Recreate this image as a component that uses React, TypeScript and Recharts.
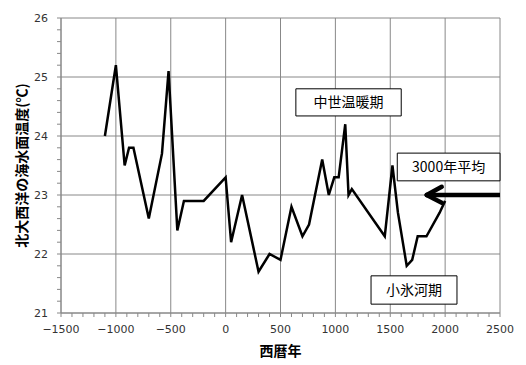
import {
  CartesianGrid,
  Line,
  LineChart,
  ReferenceArea,
  ReferenceLine,
  XAxis,
  YAxis,
} from 'recharts'

const years = [
  -1100, -1000, -920, -880, -840, -700, -580, -520, -440, -380, -200, 0, 50,
  150, 300, 400, 500, 600, 700, 760, 880, 940, 990, 1030, 1090, 1120, 1150,
  1450, 1520, 1570, 1650, 1700, 1750, 1830, 1950, 2000,
]
const temps = [
  24.0, 25.2, 23.5, 23.8, 23.8, 22.6, 23.7, 25.1, 22.4, 22.9, 22.9, 23.3, 22.2,
  23.0, 21.7, 22.0, 21.9, 22.8, 22.3, 22.5, 23.6, 23.0, 23.3, 23.3, 24.2, 23.0,
  23.1, 22.3, 23.5, 22.7, 21.8, 21.9, 22.3, 22.3, 22.7, 22.9,
]

const xMajor = [-1500, -1000, -500, 0, 500, 1000, 1500, 2000, 2500]
const yMajor = [21, 22, 23, 24, 25, 26]
const xMinorStep = 100
const yMinorStep = 0.2

const average = 23.0

const data = years.map((year, i) => ({ year, temp: temps[i] }))

const xTicks: number[] = []
for (let v = xMajor[0]; v <= xMajor[xMajor.length - 1]; v += xMinorStep) xTicks.push(v)
const yTicks: number[] = []
for (let i = 0; i <= (yMajor[yMajor.length - 1] - yMajor[0]) / yMinorStep + 0.01; i++)
  yTicks.push(Math.round((yMajor[0] + i * yMinorStep) * 10) / 10)

const tickFont = '"DejaVu Sans", sans-serif'
const cjkFont = '"Noto Sans CJK JP", sans-serif'

const fmt = (v: number) => (v < 0 ? '\u2212' + Math.abs(v) : String(v))

function XTick({ x, y, payload }: any) {
  const v = payload.value
  const major = xMajor.includes(v)
  return (
    <g>
      <line x1={x} x2={x} y1={y} y2={y + 4} stroke='#888' />
      {major && (
        <text
          x={x}
          y={y + 16}
          textAnchor='middle'
          dominantBaseline='central'
          fontFamily={tickFont}
          fontSize={11}
          fill='#333'
        >
          {fmt(v)}
        </text>
      )}
    </g>
  )
}

function YTick({ x, y, payload }: any) {
  const v = payload.value
  const major = yMajor.includes(v)
  return (
    <g>
      <line x1={x - 4} x2={x} y1={y} y2={y} stroke='#888' />
      {major && (
        <text
          x={x - 13}
          y={y}
          textAnchor='end'
          dominantBaseline='central'
          fontFamily={tickFont}
          fontSize={11}
          fill='#333'
        >
          {v}
        </text>
      )}
    </g>
  )
}

const boxLabel = (value: string) => ({
  value,
  position: 'center' as const,
  fontSize: 14,
  fill: '#000',
  fontFamily: cjkFont,
})

export default function App() {
  return (
    <div style={{ position: 'absolute', left: 0, top: 0, background: '#fff' }}>
      <LineChart
        width={526}
        height={365}
        data={data}
        margin={{ top: 18, right: 26, left: 0, bottom: 0 }}
      >
        <CartesianGrid
          stroke='#888'
          horizontalValues={yMajor}
          verticalValues={xMajor}
        />
        <XAxis
          dataKey='year'
          type='number'
          domain={[xMajor[0], xMajor[xMajor.length - 1]]}
          ticks={xTicks}
          interval={0}
          tick={<XTick />}
          tickLine={false}
          tickSize={0}
          tickMargin={0}
          stroke='#888'
          height={52}
          label={{
            value: '西暦年',
            position: 'insideBottom',
            offset: 9,
            fontSize: 14,
            fontWeight: 'bold',
            fill: '#000',
            fontFamily: cjkFont,
          }}
        />
        <YAxis
          type='number'
          domain={[yMajor[0], yMajor[yMajor.length - 1]]}
          ticks={yTicks}
          interval={0}
          tick={<YTick />}
          tickLine={false}
          tickSize={0}
          tickMargin={0}
          stroke='#888'
          width={61}
          label={{
            value: '北大西洋の海水面温度(℃)',
            angle: -90,
            position: 'insideLeft',
            offset: 22,
            fontSize: 14,
            fontWeight: 'bold',
            fill: '#000',
            fontFamily: cjkFont,
            style: { textAnchor: 'middle' },
          }}
        />
        <ReferenceArea
          x1={640}
          x2={1600}
          y1={24.34}
          y2={24.8}
          fill='#fff'
          fillOpacity={1}
          stroke='#000'
          label={boxLabel('中世温暖期')}
        />
        <ReferenceArea
          x1={1564}
          x2={2500}
          y1={23.24}
          y2={23.71}
          fill='#fff'
          fillOpacity={1}
          stroke='#000'
          label={boxLabel('3000年平均')}
        />
        <ReferenceArea
          x1={1325}
          x2={2108}
          y1={21.15}
          y2={21.63}
          fill='#fff'
          fillOpacity={1}
          stroke='#000'
          label={boxLabel('小氷河期')}
        />
        <ReferenceLine
          segment={[
            { x: 2500, y: average },
            { x: 1832, y: average },
          ]}
          stroke='#000'
          strokeWidth={4.5}
        />
        <ReferenceLine
          segment={[
            { x: 1832, y: average },
            { x: 1969, y: 23.14 },
          ]}
          stroke='#000'
          strokeWidth={4.5}
          strokeLinecap='round'
        />
        <ReferenceLine
          segment={[
            { x: 1832, y: average },
            { x: 1969, y: 22.87 },
          ]}
          stroke='#000'
          strokeWidth={4.5}
          strokeLinecap='round'
        />
        <Line
          dataKey='temp'
          type='linear'
          stroke='#000'
          strokeWidth={2.5}
          dot={false}
          isAnimationActive={false}
        />
      </LineChart>
    </div>
  )
}
